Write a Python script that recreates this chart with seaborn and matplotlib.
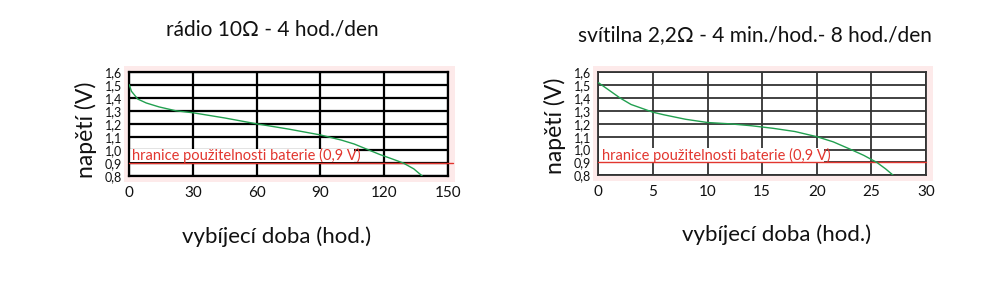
import matplotlib
matplotlib.use("Agg")
import matplotlib.pyplot as plt
import seaborn as sns
import pandas as pd
from matplotlib.patches import Rectangle

# ---- data ----
radio_hours = [0, 1, 4, 8, 14, 22, 30, 45, 60, 75, 90, 100, 106, 112, 118, 124, 129, 134, 138]
radio_volts = [1.50, 1.45, 1.39, 1.36, 1.33, 1.30, 1.285, 1.245, 1.20, 1.16, 1.115, 1.075, 1.045,
               1.005, 0.965, 0.93, 0.90, 0.855, 0.80]

lamp_hours = [0, 1, 2, 3, 5, 6, 8, 10, 12, 14, 16, 18, 20, 21.5, 23, 24.3, 25.5, 26.3, 27]
lamp_volts = [1.52, 1.46, 1.40, 1.35, 1.29, 1.27, 1.235, 1.21, 1.20, 1.185, 1.165, 1.14, 1.10,
              1.06, 1.005, 0.955, 0.90, 0.85, 0.80]

radio_xticks = [0, 30, 60, 90, 120, 150]
lamp_xticks = [0, 5, 10, 15, 20, 25, 30]
yticks = [0.8, 0.9, 1.0, 1.1, 1.2, 1.3, 1.4, 1.5, 1.6]
ytick_labels = ["0,8", "0,9", "1,0", "1,1", "1,2", "1,3", "1,4", "1,5", "1,6"]

titles = ["rádio 10\u2126 - 4 hod./den", "svítilna 2,2\u2126 - 4 min./hod.- 8 hod./den"]
xlabel = "vybíjecí doba (hod.)"
ylabel = "napětí (V)"
limit_label = "hranice použitelnosti baterie (0,9 V)"
limit_value = 0.9

sns.set_theme(style="white")
plt.rcParams['font.family'] = ['Lato', 'DejaVu Sans']

W, H = 990, 286
fig = plt.figure(figsize=(W / 100, H / 100), dpi=100)

def frac(x0, y0, x1, y1):
    return [x0 / W, 1 - y1 / H, (x1 - x0) / W, (y1 - y0) / H]

GREEN = "#22a050"
RED = "#e2362f"

panels = [
    dict(box=(129.3, 71.7, 447.7, 176.0), x=radio_hours, y=radio_volts, xticks=radio_xticks,
         xmax=150, gridc="#000000", gridw=1.6, text_end=106, red_ext=152.5,
         title=titles[0], title_xy=(272, 30), xl_xy=(277, 237), yl_xy=(86, 130)),
    dict(box=(598.3, 72.3, 926.0, 175.3), x=lamp_hours, y=lamp_volts, xticks=lamp_xticks,
         xmax=30, gridc="#333333", gridw=1.3, text_end=20.7, red_ext=30,
         title=titles[1], title_xy=(755, 35), xl_xy=(777, 235), yl_xy=(555, 126)),
]

for p in panels:
    x0, y0, x1, y1 = p["box"]
    # faint pink glow behind the grid
    fig.patches.append(Rectangle(((x0 - 5) / W, 1 - (y1 + 6) / H), (x1 - x0 + 12) / W,
                                 (y1 - y0 + 12) / H, transform=fig.transFigure,
                                 facecolor="#fdeaea", edgecolor="none", zorder=-5))
    ax = fig.add_axes(frac(x0, y0, x1, y1))
    ax.set_zorder(1)
    ax.set_facecolor("white")
    df = pd.DataFrame({"t": p["x"], "v": p["y"]})
    ax.set_xlim(0, p["xmax"])
    ax.set_ylim(0.8, 1.6)
    ax.set_xticks(p["xticks"])
    ax.set_yticks(yticks)
    ax.set_yticklabels(ytick_labels)
    ax.grid(True, color=p["gridc"], linewidth=p["gridw"], zorder=1)
    ax.set_axisbelow(True)
    for s in ax.spines.values():
        s.set_color(p["gridc"])
        s.set_linewidth(p["gridw"])
    ax.tick_params(axis="x", labelsize=11, pad=7, colors="#111111", length=0)
    ax.tick_params(axis="y", labelsize=9, pad=5, colors="#111111", length=0)

    # limit label with white background
    ax.add_patch(Rectangle((p["xmax"] * 0.003, 0.905), p["text_end"] - p["xmax"] * 0.003, 0.105,
                           facecolor="white", edgecolor="none", zorder=2))
    ax.text(p["xmax"] * 0.01, 0.957, limit_label, color=RED, fontsize=10.5,
            va="center", ha="left", zorder=3)
    ax.plot([0, p["red_ext"]], [limit_value, limit_value], color=RED, linewidth=1.0,
            zorder=4, clip_on=False)

    sns.lineplot(data=df, x="t", y="v", ax=ax, color=GREEN, linewidth=1.0, zorder=5,
                 estimator=None, sort=False)
    ax.set_xlabel("")
    ax.set_ylabel("")

    fig.text(p["title_xy"][0] / W, 1 - p["title_xy"][1] / H, p["title"], fontsize=15,
             ha="center", va="center", color="#111111")
    fig.text(p["xl_xy"][0] / W, 1 - p["xl_xy"][1] / H, xlabel, fontsize=16,
             ha="center", va="center", color="#111111")
    fig.text(p["yl_xy"][0] / W, 1 - p["yl_xy"][1] / H, ylabel, fontsize=16.5,
             ha="center", va="center", rotation=90, color="#111111")

fig.savefig("out.png", dpi=100, facecolor="white")
